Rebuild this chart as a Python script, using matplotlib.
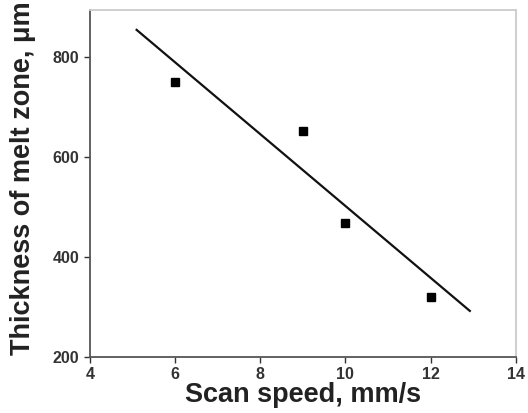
import numpy as np
import matplotlib.pyplot as plt

plt.rcParams['font.family'] = ['Liberation Sans', 'DejaVu Sans']

# measured points
speed = [6, 9, 10, 12]
thickness = [750, 652, 469, 320]

# fitted line, end points
fit_x = [5.1, 12.92]
fit_y = [855, 292]

xticks = [4, 6, 8, 10, 12, 14]
yticks = [200, 400, 600, 800]

fig = plt.figure(figsize=(5.28, 4.13), dpi=100)
ax = fig.add_axes([0.170, 0.136, 0.807, 0.840])

ax.plot(fit_x, fit_y, color='#111111', lw=1.6)
ax.plot(speed, thickness, 's', color='black', ms=6)

ax.set_xlim(4, 14)
ax.set_ylim(200, 895)
ax.set_xticks(xticks)
ax.set_yticks(yticks)
ax.tick_params(axis='both', labelsize=11.5, colors='#333333', width=1, length=4, direction='out')
ax.tick_params(axis='x', pad=3)
for lab in ax.get_xticklabels() + ax.get_yticklabels():
    lab.set_fontweight('bold')

for s in ['left', 'bottom']:
    ax.spines[s].set_color('#555555')
    ax.spines[s].set_linewidth(1.3)
for s in ['top', 'right']:
    ax.spines[s].set_color('#cccccc')
    ax.spines[s].set_linewidth(1.3)

ax.set_xlabel('Scan speed, mm/s', fontsize=19.5, fontweight='bold', color='#222222', labelpad=0)
ax.set_ylabel('Thickness of melt zone, μm', fontsize=19.5, fontweight='bold', color='#222222')
ax.yaxis.set_label_coords(-0.125, 0.515)

fig.savefig('out.png', dpi=100)
